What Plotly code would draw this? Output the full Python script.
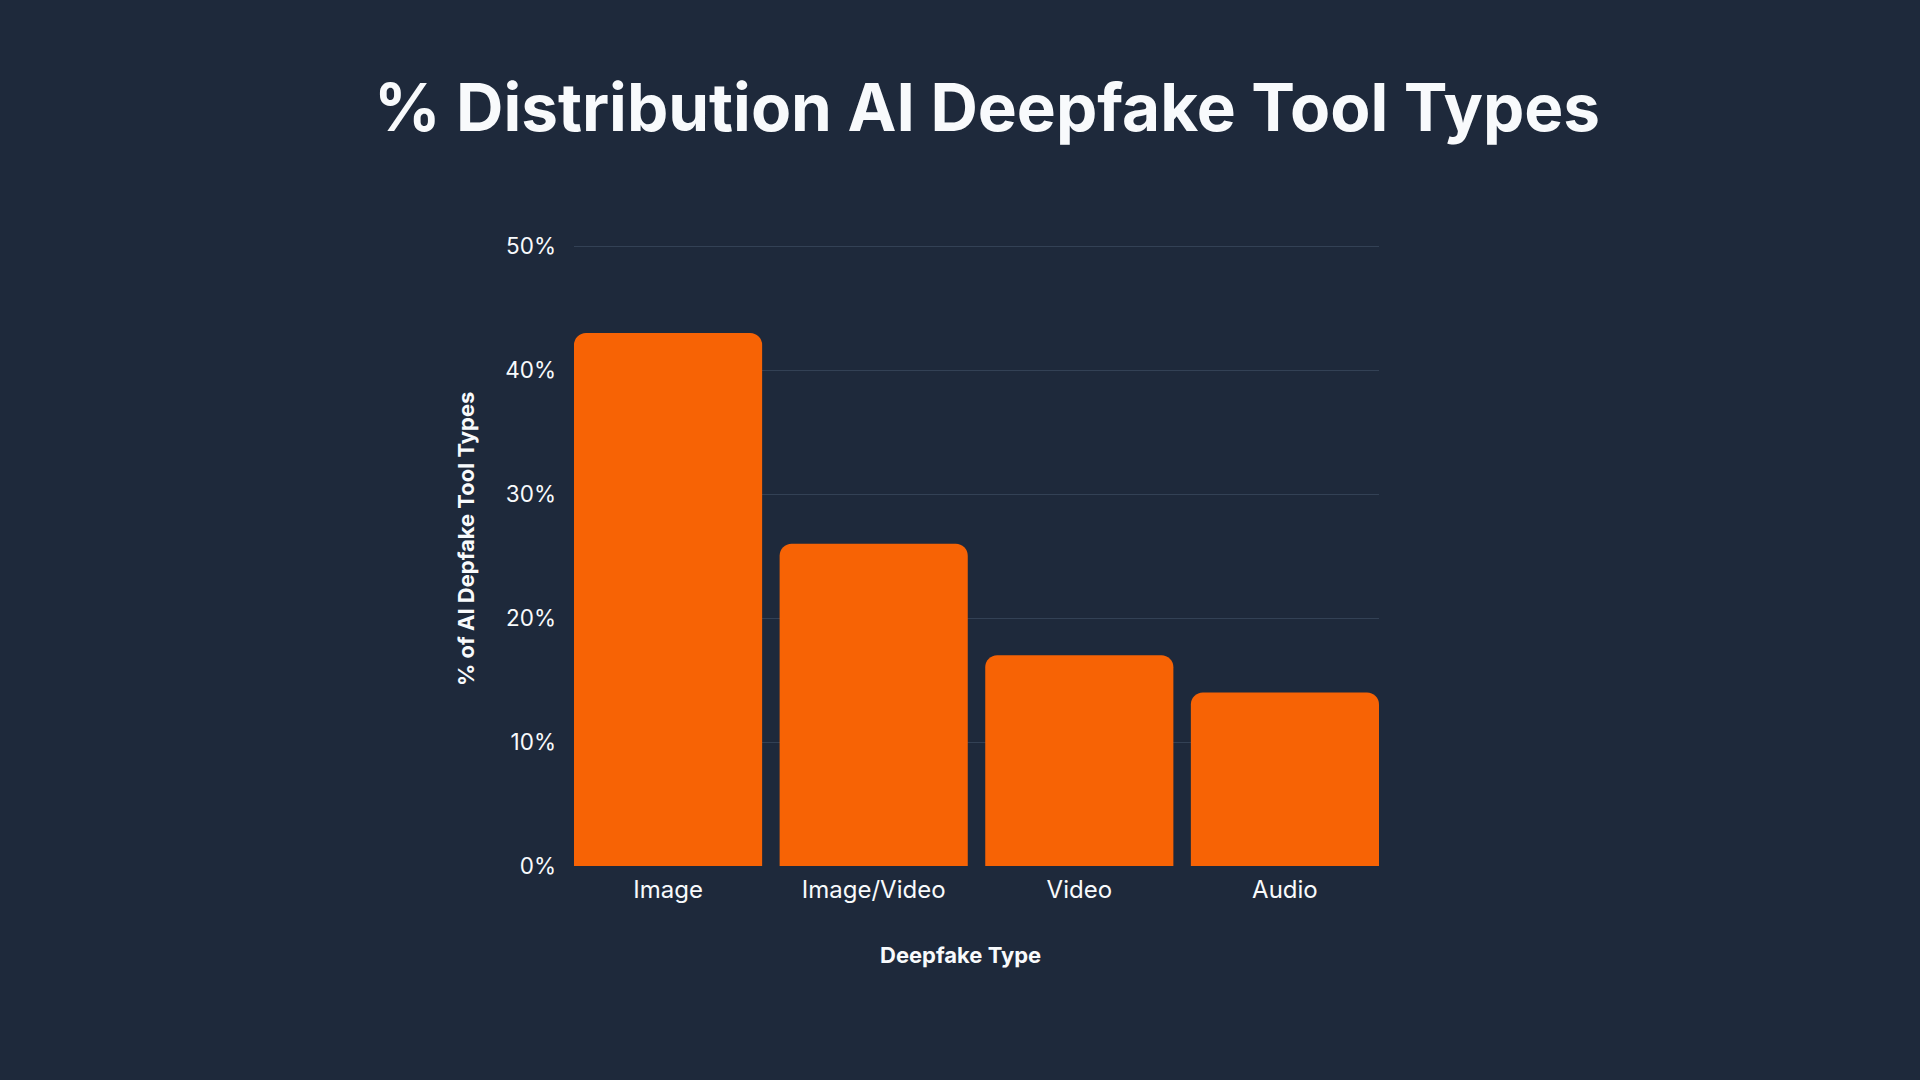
import plotly.graph_objects as go

categories = ["Image", "Image/Video", "Video", "Audio"]
shares = [43, 26, 17, 14]  # % of AI deepfake tool types
y_ticks = [0, 10, 20, 30, 40, 50]
y_tick_labels = ["0%", "10%", "20%", "30%", "40%", "50%"]

BG = "#1e293b"
BAR = "#f76305"
GRID = "#334155"
TEXT = "#f8fafc"
FONT = "Inter"

# plot area in page pixels
L, R, T, B = 574, 1379, 245, 866
W, H = 1920, 1080


def px_x(x):
    return (x - L) / (R - L)


def px_y(y):
    return (B - y) / (B - T)


fig = go.Figure()

fig.add_trace(go.Bar(
    x=categories,
    y=shares,
    marker=dict(color=BAR, line=dict(width=0), cornerradius=12),
    hoverinfo="skip",
    showlegend=False,
))

gap = 0.085
fig.update_layout(
    width=W,
    height=H,
    paper_bgcolor=BG,
    plot_bgcolor=BG,
    font=dict(family=FONT, color=TEXT),
    bargap=gap,
    margin=dict(l=L, r=W - R, t=T, b=H - B),
    title=dict(
        text="% Distribution AI Deepfake Tool Types",
        font=dict(family=FONT, size=65.6, color=TEXT, weight=700),
        x=987 / W, xanchor="center",
        y=1 - 108 / H, yanchor="middle",
    ),
    xaxis=dict(
        range=[-0.5 + gap / 2, 3.5 - gap / 2],
        showgrid=False,
        showline=False,
        zeroline=False,
        ticklabelstandoff=7,
        tickfont=dict(family=FONT, size=24, color=TEXT),
        ticks="",
    ),
    yaxis=dict(
        range=[0, 50.1],
        tickvals=y_ticks,
        ticktext=y_tick_labels,
        showgrid=True,
        gridcolor=GRID,
        gridwidth=1,
        zeroline=False,
        showline=False,
        ticklabelstandoff=17,
        tickfont=dict(family=FONT, size=22.5, color=TEXT),
    ),
    annotations=[
        dict(text="<b>Deepfake Type</b>", xref="paper", yref="paper",
             x=px_x(960), y=px_y(955), xanchor="center", yanchor="middle",
             showarrow=False, font=dict(family=FONT, size=22, color=TEXT)),
        dict(text="<b>% of AI Depfake Tool Types</b>", xref="paper", yref="paper",
             x=px_x(466), y=px_y(539), xanchor="center", yanchor="middle",
             textangle=-90, showarrow=False,
             font=dict(family=FONT, size=22, color=TEXT)),
    ],
)

fig.write_html("out.html", config={"displayModeBar": False},
               post_script="document.body.style.margin='0';")
